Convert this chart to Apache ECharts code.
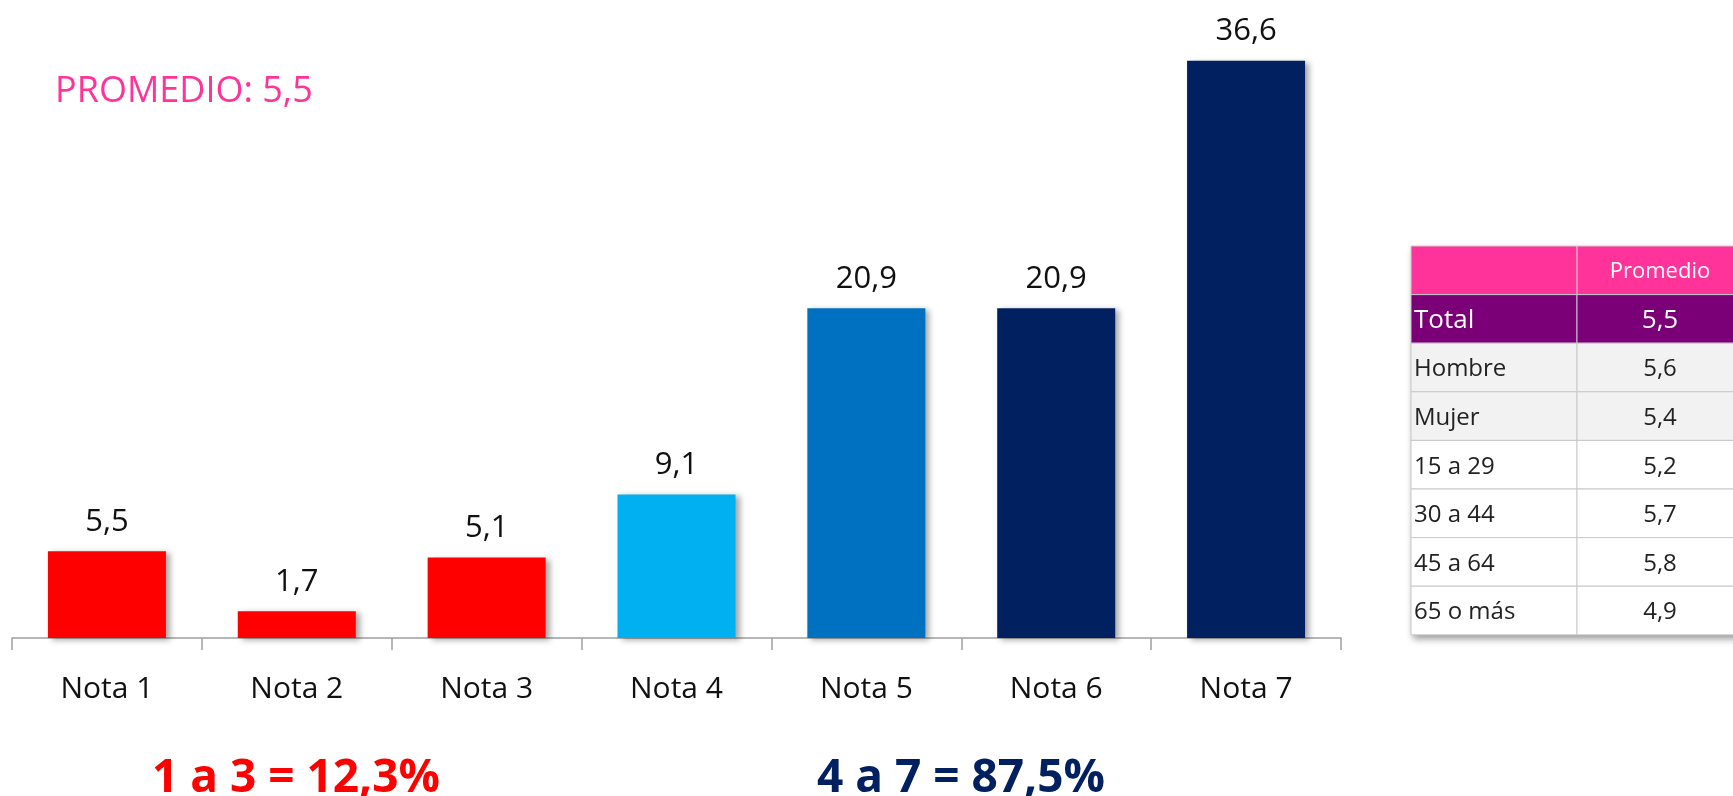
<!DOCTYPE html>
<html>
<head>
    <meta charset="utf-8">
    <title>Nota promedio</title>
    <script type="text/javascript" src="https://cdn.jsdelivr.net/npm/echarts@6/dist/echarts.min.js"></script>
    <style>
        body { margin: 0; background: #fff; }
    </style>
</head>
<body>
    <div id="main" style="width: 1733px;height:796px;"></div>

    <script type="text/javascript">
        // datos del grafico
        var categorias = ['Nota 1', 'Nota 2', 'Nota 3', 'Nota 4', 'Nota 5', 'Nota 6', 'Nota 7'];
        var valores = [5.5, 1.7, 5.1, 9.1, 20.9, 20.9, 36.6];
        var colores = ['#FF0000', '#FF0000', '#FF0000', '#00B0F0', '#0070C0', '#002060', '#002060'];

        // tabla de promedios
        var filas = ['Total', 'Hombre', 'Mujer', '15 a 29', '30 a 44', '45 a 64', '65 o más'];
        var promedios = ['5,5', '5,6', '5,4', '5,2', '5,7', '5,8', '4,9'];

        var titulo = 'PROMEDIO: 5,5';
        var resumenBajo = '1 a 3 = 12,3%';
        var resumenAlto = '4 a 7 = 87,5%';

        var fuente = '"Open Sans", "Noto Sans", sans-serif';

        var myChart = echarts.init(document.getElementById('main'));

        // tabla con elementos graphic
        var tx = 1411, ty = 246, c1 = 166, c2 = 166, hh = 48.6;
        var tabla = [];
        // sombra
        tabla.push({
            type: 'rect',
            shape: { x: tx, y: ty, width: c1 + c2, height: hh * (filas.length + 1) },
            style: { fill: '#fff', shadowColor: 'rgba(0,0,0,0.4)', shadowBlur: 7, shadowOffsetX: 2, shadowOffsetY: 4 }
        });
        tabla.push({
            type: 'rect',
            shape: { x: tx, y: ty, width: c1 + c2, height: hh },
            style: { fill: '#FF3399', stroke: '#D0D0D0', lineWidth: 1 }
        });
        tabla.push({
            type: 'line',
            shape: { x1: tx + c1, y1: ty, x2: tx + c1, y2: ty + hh },
            style: { stroke: '#E0E0E0', lineWidth: 1 }
        });
        tabla.push({
            type: 'text',
            x: tx + c1 + c2 / 2, y: ty + hh / 2 + 1,
            style: { text: 'Promedio', fill: '#fff', font: '22px ' + fuente, align: 'center', verticalAlign: 'middle' }
        });
        for (var i = 0; i < filas.length; i++) {
            var y0 = ty + hh * (i + 1);
            var fondo = i === 0 ? '#7B0078' : (i < 3 ? '#F2F2F2' : '#FFFFFF');
            var colorTexto = i === 0 ? '#FFFFFF' : '#222222';
            var tam = i === 0 ? 26 : 24;
            var peso = i === 0 ? '500 ' : '';
            tabla.push({
                type: 'rect',
                shape: { x: tx, y: y0, width: c1, height: hh },
                style: { fill: fondo, stroke: '#C8C8C8', lineWidth: 1 }
            });
            tabla.push({
                type: 'rect',
                shape: { x: tx + c1, y: y0, width: c2, height: hh },
                style: { fill: fondo, stroke: '#C8C8C8', lineWidth: 1 }
            });
            tabla.push({
                type: 'text',
                x: tx + 3, y: y0 + hh / 2 + 2,
                style: { text: filas[i], fill: colorTexto, font: peso + tam + 'px ' + fuente, align: 'left', verticalAlign: 'middle' }
            });
            tabla.push({
                type: 'text',
                x: tx + c1 + c2 / 2, y: y0 + hh / 2 + 2,
                style: { text: promedios[i], fill: colorTexto, font: peso + tam + 'px ' + fuente, align: 'center', verticalAlign: 'middle' }
            });
        }

        tabla.push({
            type: 'text',
            x: 296, y: 779,
            style: { text: resumenBajo, fill: '#FF0000', font: 'bold 46px ' + fuente, align: 'center', verticalAlign: 'middle' }
        });
        tabla.push({
            type: 'text',
            x: 961, y: 779,
            style: { text: resumenAlto, fill: '#002060', font: 'bold 46px ' + fuente, align: 'center', verticalAlign: 'middle' }
        });

        var option = {
            backgroundColor: '#fff',
            animation: false,
            title: {
                text: titulo,
                left: 50,
                top: 69,
                textStyle: { color: '#FF3399', fontSize: 36, fontWeight: 'normal', fontFamily: fuente }
            },
            grid: { left: 12, right: 392, top: 7, bottom: 158 },
            xAxis: {
                type: 'category',
                data: categorias,
                axisLine: { lineStyle: { color: '#A0A0A0', width: 1.5 } },
                axisTick: { show: true, alignWithLabel: false, interval: 0, length: 12, lineStyle: { color: '#A0A0A0', width: 1.5 } },
                axisLabel: { color: '#111', fontSize: 30, fontFamily: fuente, margin: 36 }
            },
            yAxis: {
                type: 'value',
                min: 0,
                max: 40,
                show: false,
                splitLine: { show: false }
            },
            series: [{
                type: 'bar',
                barWidth: 118,
                data: valores.map(function (v, i) {
                    return { value: v, itemStyle: { color: colores[i] } };
                }),
                itemStyle: {
                    shadowColor: 'rgba(0,0,0,0.35)',
                    shadowBlur: 6,
                    shadowOffsetX: 4,
                    shadowOffsetY: 2
                },
                label: {
                    show: true,
                    position: 'top',
                    distance: 14,
                    color: '#111',
                    fontSize: 31,
                    fontFamily: fuente,
                    formatter: function (p) { return String(p.value).replace('.', ','); }
                }
            }],
            graphic: tabla
        };

        myChart.setOption(option);
    </script>
</body>
</html>
